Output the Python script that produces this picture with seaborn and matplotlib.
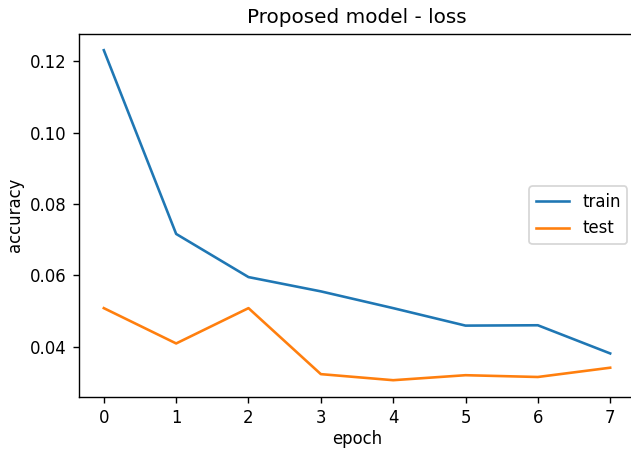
import matplotlib
matplotlib.use("Agg")
import pandas as pd
import seaborn as sns
import matplotlib.pyplot as plt

# values
epochs = [0, 1, 2, 3, 4, 5, 6, 7]
train_loss = [0.1231, 0.0716, 0.0595, 0.0555, 0.0508, 0.0459, 0.0460, 0.0381]
test_loss = [0.0508, 0.0409, 0.0508, 0.0323, 0.0306, 0.0320, 0.0315, 0.0341]

df = pd.DataFrame({
    "epoch": epochs * 2,
    "loss": train_loss + test_loss,
    "set": ["train"] * len(epochs) + ["test"] * len(epochs),
})

plt.rcParams["font.size"] = 9.5
plt.rcParams["axes.titlesize"] = 11.5
plt.rcParams["axes.labelsize"] = 9.5

# 631x450 px at dpi 125
fig = plt.figure(figsize=(631 / 125, 450 / 125), dpi=125)
ax = fig.add_axes([78.5 / 631, 1 - 396.7 / 450, 557 / 631, 363 / 450])

sns.lineplot(data=df, x="epoch", y="loss", hue="set",
             palette=["#1f77b4", "#ff7f0e"], linewidth=1.5, ax=ax)

ax.set_title("Proposed model - loss")
ax.set_ylabel("accuracy", labelpad=3)
ax.set_xlabel("epoch", labelpad=2)
ax.legend(loc="center right")
# the reference is cropped just before the right spine
ax.spines["right"].set_visible(False)

fig.savefig("out.png", dpi=125)
